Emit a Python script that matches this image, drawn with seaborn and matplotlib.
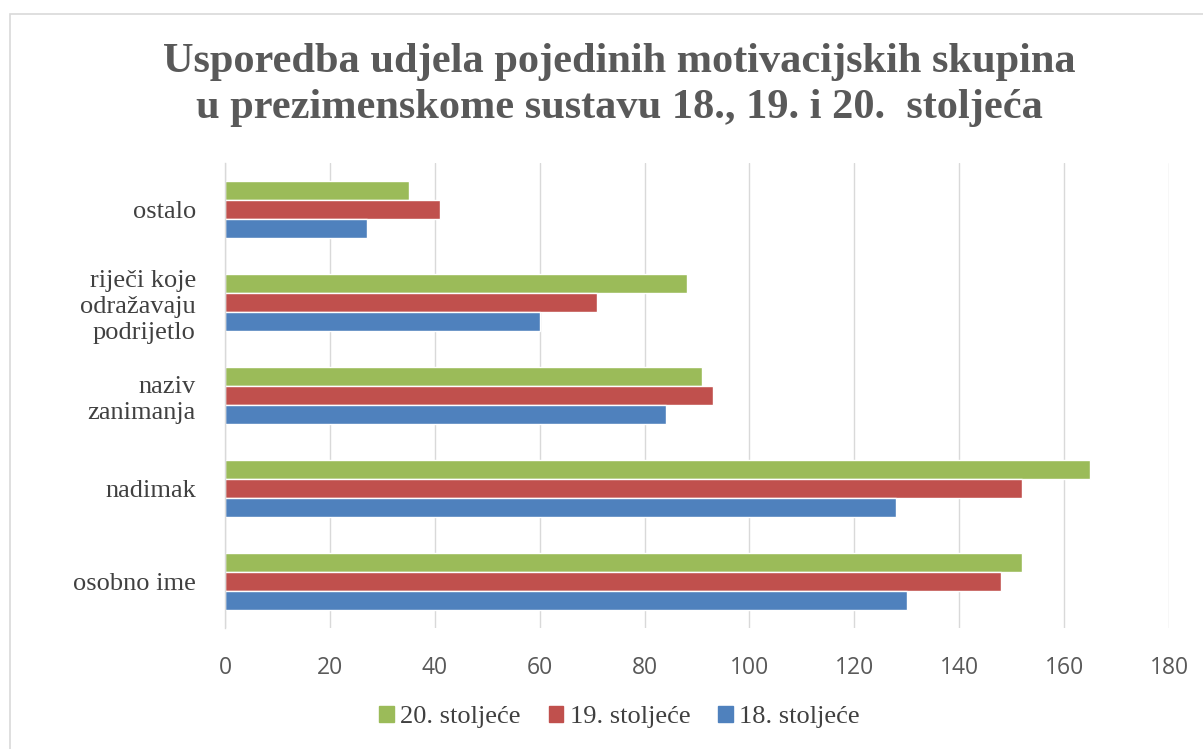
"""
Usporedba udjela motivacijskih skupina - horizontal grouped bars.
"""

import pandas as pd
import matplotlib
matplotlib.use('Agg')
import matplotlib.pyplot as plt
import matplotlib.patches as mpatches
import seaborn as sns

# Data
CATEGORIES = ['ostalo', 'riječi koje\nodražavaju\npodrijetlo', 'naziv\nzanimanja',
              'nadimak', 'osobno ime']
SERIES = ['20. stoljeće', '19. stoljeće', '18. stoljeće']
VALUES_20 = [35, 88, 91, 165, 152]
VALUES_19 = [41, 71, 93, 152, 148]
VALUES_18 = [27, 60, 84, 128, 130]
X_TICKS = [0, 20, 40, 60, 80, 100, 120, 140, 160, 180]

COLORS = {'20. stoljeće': '#9BBB59', '19. stoljeće': '#C0504D', '18. stoljeće': '#4F81BD'}

rows = []
for name, vals in zip(SERIES, [VALUES_20, VALUES_19, VALUES_18]):
    for cat, v in zip(CATEGORIES, vals):
        rows.append({'kategorija': cat, 'stoljece': name, 'vrijednost': v})
df = pd.DataFrame(rows)

sns.set_style('white')
SERIF = ['Liberation Serif', 'DejaVu Serif']
SANS = ['Open Sans', 'DejaVu Sans']

fig = plt.figure(figsize=(12.03, 7.49), dpi=100)
ax = fig.add_axes([225 / 1203, 1 - 628 / 749, (1169 - 225) / 1203, (628 - 163) / 749])

sns.barplot(data=df, y='kategorija', x='vrijednost', hue='stoljece',
            order=CATEGORIES, hue_order=SERIES, palette=COLORS,
            orient='h', width=0.62, saturation=1, ax=ax, legend=False)

ax.set_xlim(0, 180)
ax.set_ylim(4.5, -0.5)
ax.set_xticks(X_TICKS)
ax.set_xlabel('')
ax.set_ylabel('')
ax.grid(axis='x', color='#D9D9D9', linewidth=1)
ax.set_axisbelow(True)
for s in ['top', 'right', 'bottom']:
    ax.spines[s].set_visible(False)
ax.spines['left'].set_color('#D9D9D9')
ax.spines['left'].set_linewidth(1)

ax.tick_params(axis='x', length=0, pad=20, labelsize=16.5, labelcolor='#595959')
ax.tick_params(axis='y', length=0, pad=21, labelsize=19, labelcolor='#404040')
for lbl in ax.get_xticklabels():
    lbl.set_family(SANS)
for lbl in ax.get_yticklabels():
    lbl.set_family(SERIF)
    lbl.set_horizontalalignment('right')
    lbl.set_multialignment('right')
    lbl.set_linespacing(1.22)

fig.text(0.515, 1 - 85 / 749, 'Usporedba udjela pojedinih motivacijskih skupina\n'
         'u prezimenskome sustavu 18., 19. i 20.  stoljeća',
         ha='center', va='center', fontsize=30.5, fontweight='bold',
         color='#595959', family=SERIF, linespacing=1.27)

handles = [mpatches.Patch(color=COLORS[s], label=s) for s in SERIES]
fig.legend(handles=handles, loc='center', bbox_to_anchor=(0.515, 1 - 717 / 749),
           ncol=3, frameon=False, prop={'family': SERIF, 'size': 19},
           handlelength=0.55, handleheight=0.55, handletextpad=0.25,
           columnspacing=1.05, labelcolor='#404040')

# chart area border
fig.patches.append(mpatches.Rectangle((10 / 1203, -0.05), 1.2, 1 - 14 / 749 + 0.05,
                                      transform=fig.transFigure, fill=False,
                                      edgecolor='#D9D9D9', linewidth=1.2))

fig.savefig('out.png', dpi=100)
